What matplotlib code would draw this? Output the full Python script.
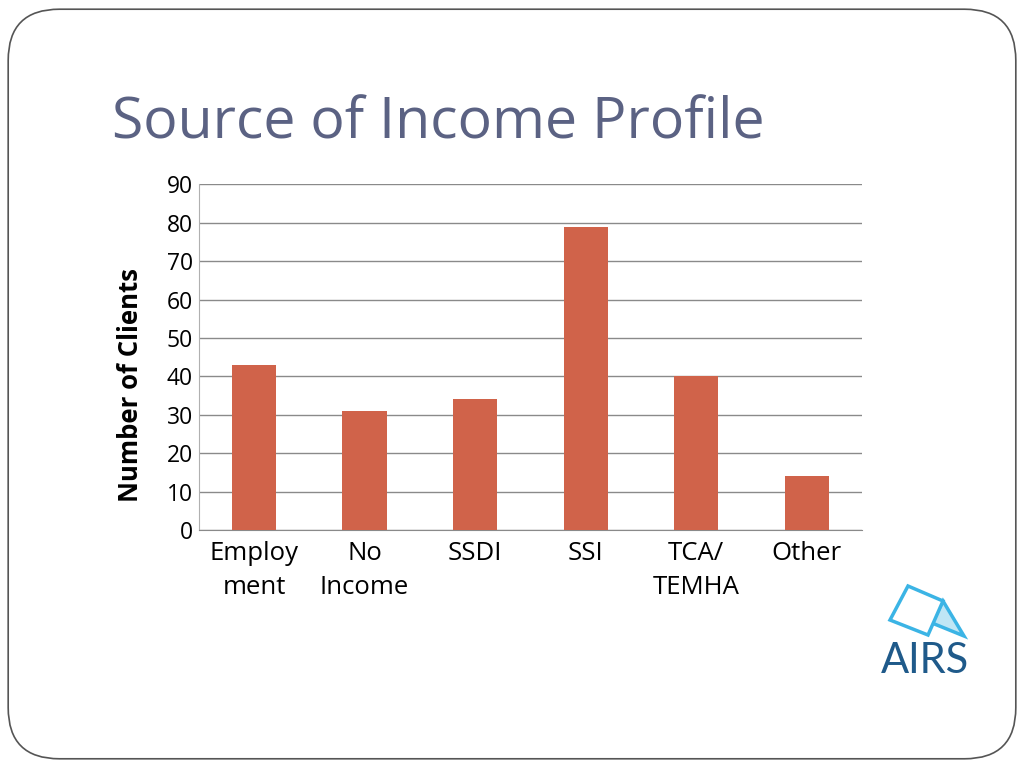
import matplotlib.pyplot as plt
from matplotlib.patches import FancyBboxPatch, Polygon

categories = ["Employ\nment", "No\nIncome", "SSDI", "SSI", "TCA/\nTEMHA", "Other"]
clients = [43, 31, 34, 79, 40, 14]
y_ticks = list(range(0, 100, 10))

bar_color = "#D0634A"
title_color = "#5B6283"

plt.rcParams['font.family'] = ['Open Sans', 'DejaVu Sans']

fig = plt.figure(figsize=(10.24, 7.68), dpi=100)

# slide frame with rounded corners
frame = FancyBboxPatch((0.008, 0.012), 0.984, 0.976,
                       boxstyle="round,pad=0,rounding_size=0.05",
                       transform=fig.transFigure, facecolor="none",
                       edgecolor="#555555", linewidth=1.2, mutation_aspect=1.33,
                       zorder=0)
fig.patches.append(frame)

fig.text(0.109, 0.82, "Source of Income Profile", fontsize=41.2,
         color=title_color, ha="left", va="baseline")

ax = fig.add_axes([0.194, 0.31, 0.648, 0.45])
ax.set_facecolor("none")
ax.bar(range(len(categories)), clients, width=0.4, color=bar_color, zorder=3)

ax.set_ylim(0, 90)
ax.set_xlim(-0.5, len(categories) - 0.5)
ax.set_yticks(y_ticks)
ax.set_xticks(range(len(categories)))
ax.set_xticklabels(categories, fontsize=18.5, linespacing=1.45)
ax.tick_params(axis="y", labelsize=16.5, length=0, pad=4)
ax.tick_params(axis="x", length=0, pad=8)
ax.yaxis.grid(True, color="#8a8a8a", linewidth=1, zorder=0)

for side in ["top", "right"]:
    ax.spines[side].set_visible(False)
ax.spines["left"].set_color("#b0b0b0")
ax.spines["bottom"].set_color("#8a8a8a")

ax.set_ylabel("Number of Clients", fontsize=18.5, fontweight="bold")
ax.yaxis.set_label_coords(-0.083, 0.42)

# AIRS logo (pixel coordinates converted to figure fractions)
def px(x, y):
    return (x / 1024, 1 - y / 768)

tri = Polygon([px(943, 601), px(932, 623), px(964, 636)],
              closed=True, facecolor="#BFE6F5", edgecolor="#3BB4E5",
              linewidth=2.5, transform=fig.transFigure)
sq = Polygon([px(908, 586), px(943, 601), px(928, 635), px(890, 620)],
             closed=True, facecolor="white", edgecolor="#3BB4E5", linewidth=2.5,
             transform=fig.transFigure)
fig.patches.extend([tri, sq])
fig.text(925 / 1024, 1 - 673 / 768, "AIRS", fontsize=30, color="#1F5A8A",
         ha="center", va="baseline", family=["Lato", "DejaVu Sans"])

fig.savefig("out.png", dpi=100)
